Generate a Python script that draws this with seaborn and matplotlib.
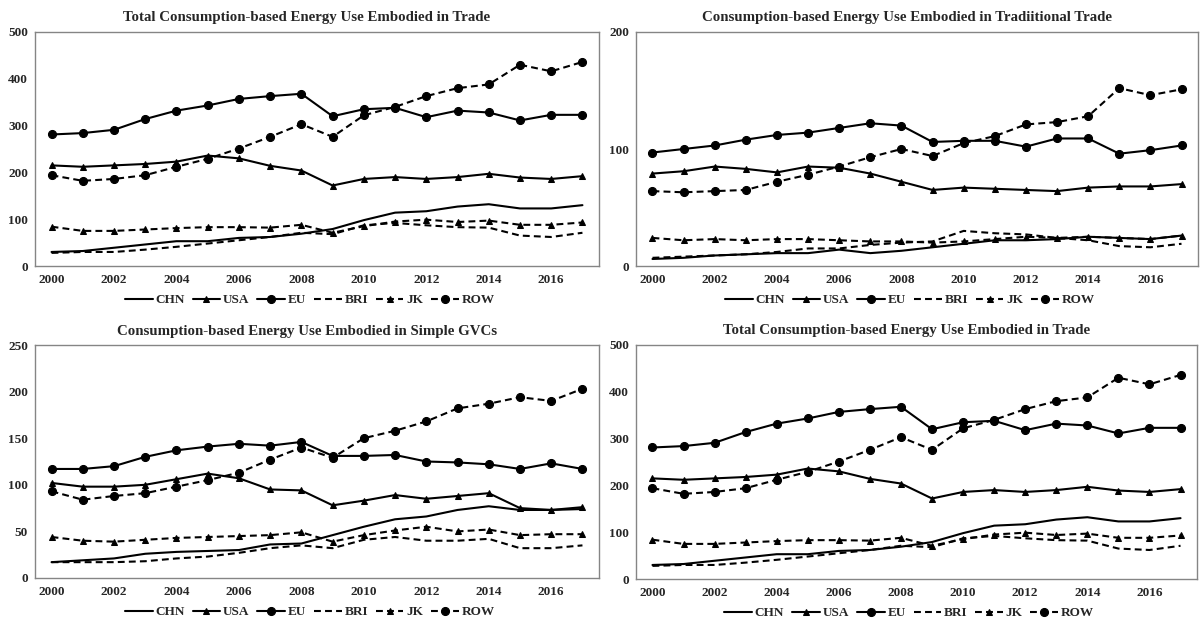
import matplotlib
matplotlib.use("Agg")
import matplotlib.pyplot as plt
import seaborn as sns
import pandas as pd

years = list(range(2000, 2018))
series_names = ["CHN", "USA", "EU", "BRI", "JK", "ROW"]

# Panel: Total Consumption-based Energy Use Embodied in Trade
total_chn = [30, 32, 39, 46, 53, 53, 60, 62, 69, 79, 98, 114, 117, 127, 132, 123, 123, 130]
total_usa = [215, 212, 215, 218, 223, 236, 230, 214, 204, 172, 186, 190, 186, 190, 197, 189, 186, 192]
total_eu = [281, 284, 291, 314, 332, 343, 357, 363, 368, 320, 335, 338, 318, 332, 328, 311, 323, 323]
total_bri = [28, 30, 30, 35, 41, 48, 55, 62, 71, 68, 87, 92, 87, 83, 82, 65, 62, 71]
total_jk = [84, 75, 75, 78, 81, 83, 83, 82, 88, 71, 85, 95, 99, 94, 97, 88, 88, 93]
total_row = [194, 182, 186, 194, 212, 229, 251, 276, 303, 276, 322, 340, 363, 380, 388, 430, 416, 436]

# Panel: Traditional Trade
trad_chn = [6, 7, 9, 10, 11, 11, 14, 11, 13, 16, 19, 22, 22, 23, 25, 24, 23, 26]
trad_usa = [79, 81, 85, 83, 80, 85, 84, 79, 72, 65, 67, 66, 65, 64, 67, 68, 68, 70]
trad_eu = [97, 100, 103, 108, 112, 114, 118, 122, 120, 106, 107, 107, 102, 109, 109, 96, 99, 103]
trad_bri = [7, 8, 9, 10, 12, 15, 15, 18, 20, 21, 30, 28, 27, 24, 22, 17, 16, 19]
trad_jk = [24, 22, 23, 22, 23, 23, 22, 21, 21, 20, 21, 23, 25, 24, 25, 24, 23, 26]
trad_row = [64, 63, 64, 65, 72, 78, 85, 93, 100, 94, 105, 111, 121, 123, 128, 152, 146, 151]

# Panel: Simple GVCs
gvc_chn = [17, 19, 21, 26, 28, 29, 30, 36, 37, 46, 55, 63, 66, 73, 77, 73, 73, 74]
gvc_usa = [102, 98, 98, 100, 106, 112, 107, 95, 94, 78, 83, 89, 85, 88, 91, 75, 73, 76]
gvc_eu = [117, 117, 120, 130, 137, 141, 144, 142, 146, 131, 131, 132, 125, 124, 122, 117, 123, 117]
gvc_bri = [17, 17, 17, 18, 21, 23, 27, 32, 35, 32, 41, 44, 40, 40, 42, 32, 32, 35]
gvc_jk = [44, 40, 39, 41, 43, 44, 45, 46, 49, 39, 46, 51, 55, 50, 52, 46, 47, 47]
gvc_row = [93, 84, 88, 91, 98, 105, 113, 127, 140, 129, 150, 158, 168, 182, 187, 194, 190, 203]

titles = [
    "Total Consumption-based Energy Use Embodied in Trade",
    "Consumption-based Energy Use Embodied in Tradiitional Trade",
    "Consumption-based Energy Use Embodied in Simple GVCs",
    "Total Consumption-based Energy Use Embodied in Trade",
]
ylims = [500, 200, 250, 500]
ysteps = [100, 100, 50, 100]

panel_data = [
    [total_chn, total_usa, total_eu, total_bri, total_jk, total_row],
    [trad_chn, trad_usa, trad_eu, trad_bri, trad_jk, trad_row],
    [gvc_chn, gvc_usa, gvc_eu, gvc_bri, gvc_jk, gvc_row],
    [total_chn, total_usa, total_eu, total_bri, total_jk, total_row],
]

sns.set_theme(style="white")
plt.rcParams["font.family"] = ["Liberation Serif", "DejaVu Serif"]
plt.rcParams["font.weight"] = "bold"

dash = (0, (3.3, 2.0))
styles = {
    "CHN": dict(ls="-", marker=None, ms=0),
    "USA": dict(ls="-", marker="^", ms=5.0),
    "EU": dict(ls="-", marker="o", ms=5.8),
    "BRI": dict(ls=dash, marker=None, ms=0),
    "JK": dict(ls=dash, marker="^", ms=4.5),
    "ROW": dict(ls=dash, marker="o", ms=5.8),
}

fig = plt.figure(figsize=(12.03, 6.26), dpi=100)
W, H = 1203, 626
boxes = [
    (35, 32, 599, 266),
    (636, 32, 1198, 266),
    (35, 345, 599, 578),
    (636, 345, 1197, 579),
]

for i, (l, t, r, b) in enumerate(boxes):
    ax = fig.add_axes([l / W, 1 - b / H, (r - l) / W, (b - t) / H])
    for name, vals in zip(series_names, panel_data[i]):
        df = pd.DataFrame({"year": years, "value": vals})
        st = styles[name]
        sns.lineplot(data=df, x="year", y="value", ax=ax, color="black",
                     linestyle=st["ls"], marker=st["marker"], markersize=st["ms"],
                     markeredgecolor="black", markerfacecolor="black",
                     linewidth=1.5, label=name)
    ax.set_xlim(1999.47, 2017.53)
    ax.set_ylim(0, ylims[i])
    ax.set_xticks(list(range(2000, 2017, 2)))
    ax.set_yticks(list(range(0, ylims[i] + 1, ysteps[i])))
    ax.set_xlabel("")
    ax.set_ylabel("")
    ax.tick_params(axis="both", length=0, labelsize=9.5)
    ax.tick_params(axis="x", pad=6)
    ax.tick_params(axis="y", pad=5)
    for lab in ax.get_xticklabels() + ax.get_yticklabels():
        lab.set_fontweight("bold")
    for sp in ax.spines.values():
        sp.set_color("#858585")
        sp.set_linewidth(1.0)
    ax.text(0.482, 1.0 + 14 / (b - t), titles[i], transform=ax.transAxes,
            ha="center", va="center", fontsize=10.7, fontweight="bold")
    handles, labels = ax.get_legend_handles_labels()
    if ax.get_legend():
        ax.get_legend().remove()
    cx = (l + (r - l) * 0.487) / W
    cy = 1 - (b + 34) / H
    fig.legend(handles, labels, loc="center", bbox_to_anchor=(cx, cy),
               ncol=6, frameon=False, handlelength=2.1, handletextpad=0.2,
               columnspacing=0.6, prop={"size": 9.5, "weight": "bold"})

fig.savefig("out.png", dpi=100)
